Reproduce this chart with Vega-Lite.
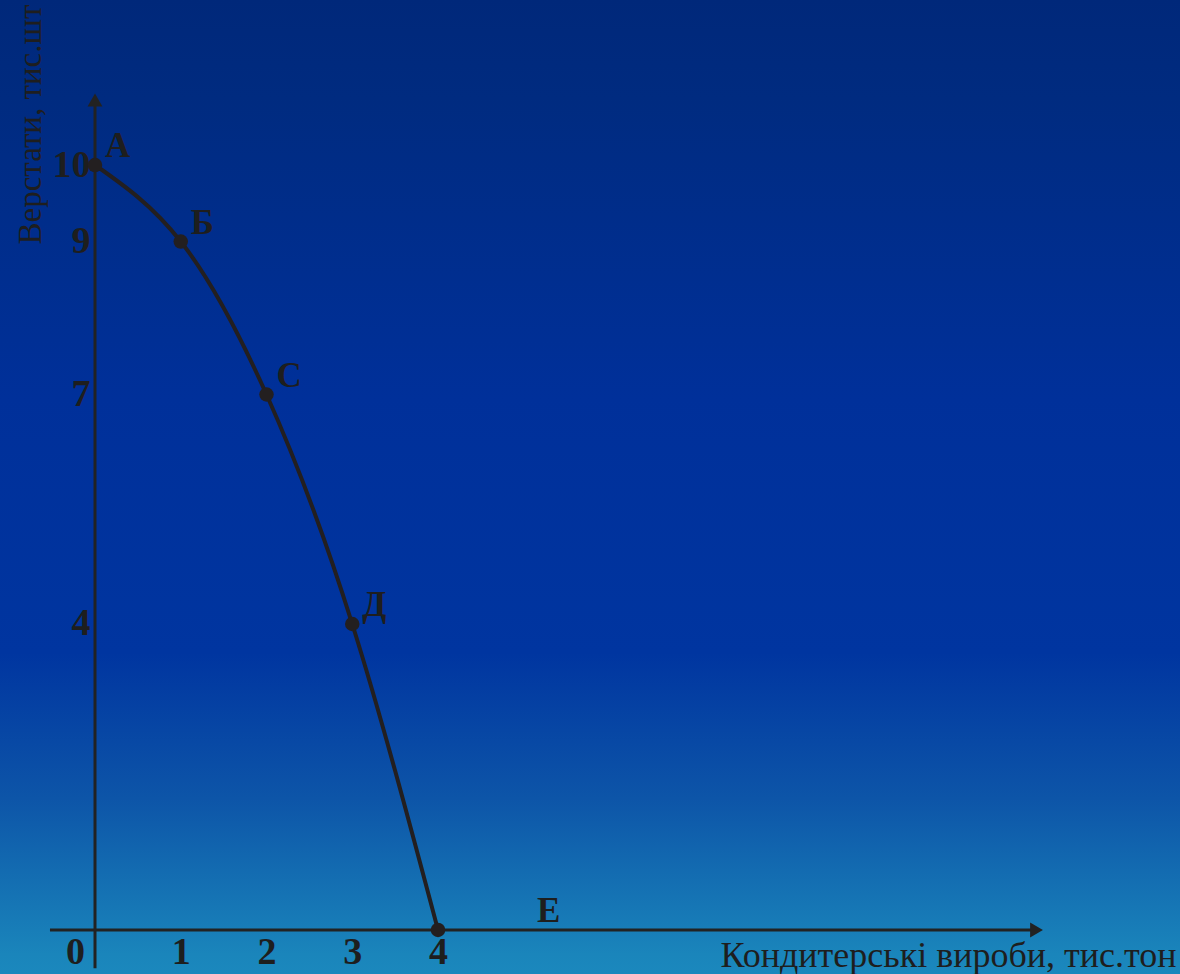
{
  "$schema": "https://vega.github.io/schema/vega-lite/v6.json",
  "width": 1180,
  "height": 974,
  "autosize": {"type": "none"},
  "padding": 0,
  "background": "#0033a0",
  "config": {
    "view": {
      "stroke": null,
      "fill": {
        "gradient": "linear",
        "x1": 0, "y1": 0, "x2": 0, "y2": 1,
        "stops": [
          {"offset": 0, "color": "#00287a"},
          {"offset": 0.1, "color": "#002b80"},
          {"offset": 0.41, "color": "#00309a"},
          {"offset": 0.67, "color": "#0035a0"},
          {"offset": 0.82, "color": "#0d55a8"},
          {"offset": 0.98, "color": "#1a85bb"},
          {"offset": 1, "color": "#1b88bd"}
        ]
      }
    }
  },
  "datasets": {
    "ppf": [
      {"point": "А", "x": 0, "y": 10},
      {"point": "Б", "x": 1, "y": 9},
      {"point": "С", "x": 2, "y": 7},
      {"point": "Д", "x": 3, "y": 4},
      {"point": "Е", "x": 4, "y": 0}
    ],
    "axes": [
      {"axis": "y", "x": 0, "y": -0.5, "x2": 0, "y2": 10.85},
      {"axis": "x", "x": -0.525, "y": 0, "x2": 10.95, "y2": 0}
    ],
    "arrowUp": [{"x": 0, "y": 10.85}],
    "arrowRight": [{"x": 10.98, "y": 0}]
  },
  "layer": [
    {
      "data": {"name": "axes"},
      "mark": {"type": "rule", "color": "#222222", "strokeWidth": 3},
      "encoding": {
        "x": {"field": "x", "type": "quantitative"},
        "y": {"field": "y", "type": "quantitative"},
        "x2": {"field": "x2"},
        "y2": {"field": "y2"}
      }
    },
    {
      "data": {"name": "arrowUp"},
      "mark": {"type": "point", "shape": "triangle-up", "filled": true, "color": "#222222", "size": 220, "opacity": 1},
      "encoding": {
        "x": {"field": "x", "type": "quantitative"},
        "y": {"field": "y", "type": "quantitative"}
      }
    },
    {
      "data": {"name": "arrowRight"},
      "mark": {"type": "point", "shape": "triangle-right", "filled": true, "color": "#222222", "size": 220, "opacity": 1},
      "encoding": {
        "x": {"field": "x", "type": "quantitative"},
        "y": {"field": "y", "type": "quantitative"}
      }
    },
    {
      "data": {"name": "ppf"},
      "mark": {"type": "line", "color": "#231f20", "strokeWidth": 4, "interpolate": "natural"},
      "encoding": {
        "x": {
          "field": "x", "type": "quantitative",
          "scale": {"domain": [-1.1079, 12.6531], "nice": false, "zero": false},
          "axis": {
            "values": [0, 1, 2, 3, 4],
            "format": "d",
            "orient": "bottom",
            "offset": -44,
            "domain": false,
            "ticks": false,
            "tickSize": 0,
            "grid": false,
            "labelFont": "Liberation Serif",
            "labelFontWeight": "bold",
            "labelFontSize": 38,
            "labelColor": "#1e1e1e",
            "labelPadding": 3,
            "labelBaseline": "top",
            "labelFlush": false,
            "labelOverlap": false,
            "labelOffset": {"condition": {"test": "datum.value === 0", "value": -20}, "value": 0},
            "title": "Кондитерські вироби, тис.тон",
            "titleFont": "Liberation Serif",
            "titleFontWeight": "normal",
            "titleFontSize": 36,
            "titleColor": "#1e1e1e",
            "titleX": 1176,
            "titleY": 36,
            "titleAlign": "right",
            "titleBaseline": "alphabetic"
          }
        },
        "y": {
          "field": "y", "type": "quantitative",
          "scale": {"domain": [-0.5752, 12.1569], "nice": false, "zero": false},
          "axis": {
            "values": [4, 7, 9, 10],
            "format": "d",
            "orient": "left",
            "offset": -95,
            "domain": false,
            "ticks": false,
            "tickSize": 0,
            "grid": false,
            "labelFont": "Liberation Serif",
            "labelFontWeight": "bold",
            "labelFontSize": 38,
            "labelColor": "#1e1e1e",
            "labelPadding": 5,
            "labelBaseline": "middle",
            "labelOverlap": false,
            "labelFlush": false,
            "title": "Верстати, тис.шт",
            "titleFont": "Liberation Serif",
            "titleFontWeight": "normal",
            "titleFontSize": 33,
            "titleColor": "#1e1e1e",
            "titleAngle": 270,
            "titleX": -55,
            "titleY": 244,
            "titleAlign": "left",
            "titleBaseline": "alphabetic"
          }
        }
      }
    },
    {
      "data": {"name": "ppf"},
      "mark": {"type": "point", "filled": true, "color": "#231f20", "size": 210, "opacity": 1},
      "encoding": {
        "x": {"field": "x", "type": "quantitative"},
        "y": {"field": "y", "type": "quantitative"}
      }
    },
    {
      "data": {"name": "ppf"},
      "transform": [{"filter": "datum.point !== 'Е'"}],
      "mark": {"type": "text", "font": "Liberation Serif", "fontWeight": "bold", "fontSize": 35, "color": "#1e1e1e", "align": "left", "baseline": "alphabetic", "dx": 10, "dy": -8},
      "encoding": {
        "x": {"field": "x", "type": "quantitative"},
        "y": {"field": "y", "type": "quantitative"},
        "text": {"field": "point"}
      }
    },
    {
      "data": {"name": "ppf"},
      "transform": [{"filter": "datum.point === 'Е'"}],
      "mark": {"type": "text", "font": "Liberation Serif", "fontWeight": "bold", "fontSize": 35, "color": "#1e1e1e", "align": "left", "baseline": "alphabetic", "dx": 99, "dy": -8},
      "encoding": {
        "x": {"field": "x", "type": "quantitative"},
        "y": {"field": "y", "type": "quantitative"},
        "text": {"field": "point"}
      }
    }
  ]
}
